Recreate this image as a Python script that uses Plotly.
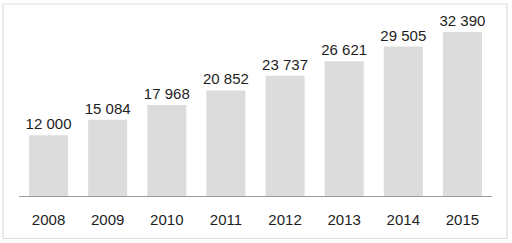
import plotly.graph_objects as go

years = ["2008", "2009", "2010", "2011", "2012", "2013", "2014", "2015"]
values = [12000, 15084, 17968, 20852, 23737, 26621, 29505, 32390]
labels = [f"{v:,}".replace(",", " ") for v in values]

L, R, T, B = 19, 20, 10, 47
W, H = 512, 243
pw, ph = W - L - R, H - T - B

def px(x):
    return (x - L) / pw

def py(y):
    return (H - B - y) / ph

fig = go.Figure(go.Bar(
    x=years, y=values, text=labels, textposition="outside",
    constraintext="none",
    textfont=dict(size=15, color="#1e1e1e", family="Liberation Sans, Arial"),
    marker=dict(color="#dcdcdc", line=dict(width=0)),
    cliponaxis=False,
))

fig.update_layout(
    width=W, height=H,
    margin=dict(l=L, r=R, t=T, b=B, autoexpand=False),
    paper_bgcolor="white", plot_bgcolor="white",
    bargap=0.34,
    showlegend=False,
    font=dict(family="Liberation Sans, Arial", color="#1e1e1e"),
    xaxis=dict(showline=True, linecolor="#9a9a9a", linewidth=1, ticks="",
               tickfont=dict(size=15, color="#1e1e1e"), showgrid=False,
               range=[-0.5, 7.5], automargin=False, ticklabelstandoff=10),
    yaxis=dict(range=[0, 36736], visible=False, showgrid=False, automargin=False),
    shapes=[dict(type="rect", xref="paper", yref="paper",
                 x0=px(3), x1=px(507), y0=py(4), y1=py(238.5),
                 line=dict(color="#dddddd", width=1.2), layer="below")],
)

fig.write_html("out.html",
               config={"displayModeBar": False, "staticPlot": True},
               post_script="document.body.style.margin='0';document.body.style.overflow='hidden';")
